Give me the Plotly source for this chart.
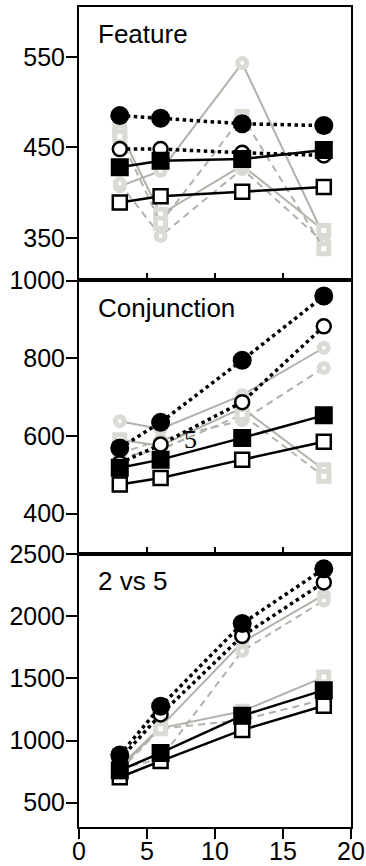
import plotly.graph_objects as go
from plotly.subplots import make_subplots

# ---------------- data ----------------
set_size = [3, 6, 12, 18]

panel_titles = ["Feature", "Conjunction", "2 vs 5"]

# Feature panel
feat_grey_circ_solid = [407, 424, 543, 352]
feat_grey_circ_dash = [410, 352, 426, 345]
feat_grey_sq_solid = [468, 376, 430, 358]
feat_grey_sq_dash = [462, 366, 484, 338]
feat_open_sq = [389, 396, 401, 406]
feat_open_circ = [448, 448, 444, 441]
feat_fill_sq = [428, 435, 437, 447]
feat_fill_circ = [485, 482, 476, 474]

# Conjunction panel
conj_grey_circ_solid = [638, 618, 705, 827]
conj_grey_circ_dash = [555, 590, 640, 775]
conj_grey_sq_solid = [590, 575, 672, 513]
conj_grey_sq_dash = [545, 565, 655, 496]
conj_open_sq = [475, 492, 539, 585]
conj_open_circ = [530, 578, 687, 882]
conj_fill_sq = [518, 539, 595, 653]
conj_fill_circ = [569, 635, 795, 960]

# 2 vs 5 panel
tv_grey_circ_solid = [790, 1110, 1790, 2170]
tv_grey_circ_dash = [770, 855, 1720, 2125]
tv_grey_sq_solid = [780, 1100, 1235, 1510]
tv_grey_sq_dash = [760, 1095, 1165, 1330]
tv_open_sq = [705, 835, 1085, 1280]
tv_open_circ = [850, 1210, 1840, 2271]
tv_fill_sq = [760, 900, 1200, 1405]
tv_fill_circ = [884, 1275, 1940, 2380]

y_ranges = [[303, 605], [297, 1000.5], [305, 2502]]
y_ticks = [[350, 450, 550], [400, 600, 800, 1000], [500, 1000, 1500, 2000, 2500]]
x_ticks = [0, 5, 10, 15, 20]

panels = [
    [feat_grey_circ_solid, feat_grey_circ_dash, feat_grey_sq_solid, feat_grey_sq_dash,
     feat_open_sq, feat_open_circ, feat_fill_sq, feat_fill_circ],
    [conj_grey_circ_solid, conj_grey_circ_dash, conj_grey_sq_solid, conj_grey_sq_dash,
     conj_open_sq, conj_open_circ, conj_fill_sq, conj_fill_circ],
    [tv_grey_circ_solid, tv_grey_circ_dash, tv_grey_sq_solid, tv_grey_sq_dash,
     tv_open_sq, tv_open_circ, tv_fill_sq, tv_fill_circ],
]

# ---------------- styles ----------------
GREY_LINE = "#b2b1aa"
GREY_MARK = "#dcdad4"
FONT = "Liberation Sans, Arial, Helvetica, sans-serif"

styles = [
    dict(line=dict(color=GREY_LINE, width=2),
         marker=dict(symbol="circle", size=9, color="white", line=dict(color=GREY_MARK, width=5))),
    dict(line=dict(color=GREY_LINE, width=2, dash="7px,5px"),
         marker=dict(symbol="circle", size=9, color="white", line=dict(color=GREY_MARK, width=5))),
    dict(line=dict(color=GREY_LINE, width=2),
         marker=dict(symbol="square", size=10, color="white", line=dict(color=GREY_MARK, width=5))),
    dict(line=dict(color=GREY_LINE, width=2, dash="7px,5px"),
         marker=dict(symbol="square", size=10, color="white", line=dict(color=GREY_MARK, width=5))),
    dict(line=dict(color="black", width=2.5),
         marker=dict(symbol="square", size=14, color="white", line=dict(color="black", width=2.5))),
    dict(line=dict(color="black", width=3.5, dash="dot"),
         marker=dict(symbol="circle", size=14, color="white", line=dict(color="black", width=2.5))),
    dict(line=dict(color="black", width=2.5),
         marker=dict(symbol="square", size=18, color="black", line=dict(width=0))),
    dict(line=dict(color="black", width=3.5, dash="dot"),
         marker=dict(symbol="circle", size=19, color="black", line=dict(width=0))),
]

fig = make_subplots(rows=3, cols=1, vertical_spacing=0)

for r, series in enumerate(panels, start=1):
    for vals, st in zip(series, styles):
        fig.add_trace(go.Scatter(x=set_size, y=vals, mode="lines+markers",
                                 line=st["line"], marker=st["marker"],
                                 showlegend=False, hoverinfo="skip"), row=r, col=1)

for r in range(1, 4):
    fig.update_yaxes(range=y_ranges[r - 1], tickvals=y_ticks[r - 1],
                     ticks="outside", ticklen=11, tickwidth=2, tickcolor="black",
                     ticklabelstandoff=-4,
                     showline=True, linecolor="black", linewidth=2, mirror=True,
                     showgrid=False, zeroline=False, automargin=False,
                     tickfont=dict(family=FONT, size=25, color="black"),
                     row=r, col=1)
    last = (r == 3)
    fig.update_xaxes(range=[0, 20], tickvals=x_ticks,
                     ticks="outside" if last else "inside",
                     ticklen=10 if last else 7, tickwidth=2, tickcolor="black",
                     showticklabels=last, ticklabelstandoff=-9 if last else 0,
                     showline=True, linecolor="black", linewidth=2, mirror=True,
                     showgrid=False, zeroline=False, automargin=False,
                     tickfont=dict(family=FONT, size=25, color="black"),
                     row=r, col=1)

axis_names = ["", "2", "3"]
for i, title in enumerate(panel_titles):
    fig.add_annotation(text=title, xref="x%s domain" % axis_names[i], yref="y%s domain" % axis_names[i],
                       x=0.064, y=0.90, xanchor="left", yanchor="middle", showarrow=False,
                       font=dict(family=FONT, size=26, color="black"))

# stray glyph in the conjunction panel
fig.add_annotation(text="5", xref="x2", yref="y2", x=8.2, y=590, showarrow=False,
                   font=dict(family="Liberation Serif, serif", size=26, color="#000000"))

fig.update_layout(width=366, height=866, margin=dict(l=79, r=15, t=7, b=39),
                  paper_bgcolor="white", plot_bgcolor="white")

fig.write_html("out.html", config={"displayModeBar": False},
               post_script="document.body.style.margin='0';document.body.style.overflow='hidden';")
